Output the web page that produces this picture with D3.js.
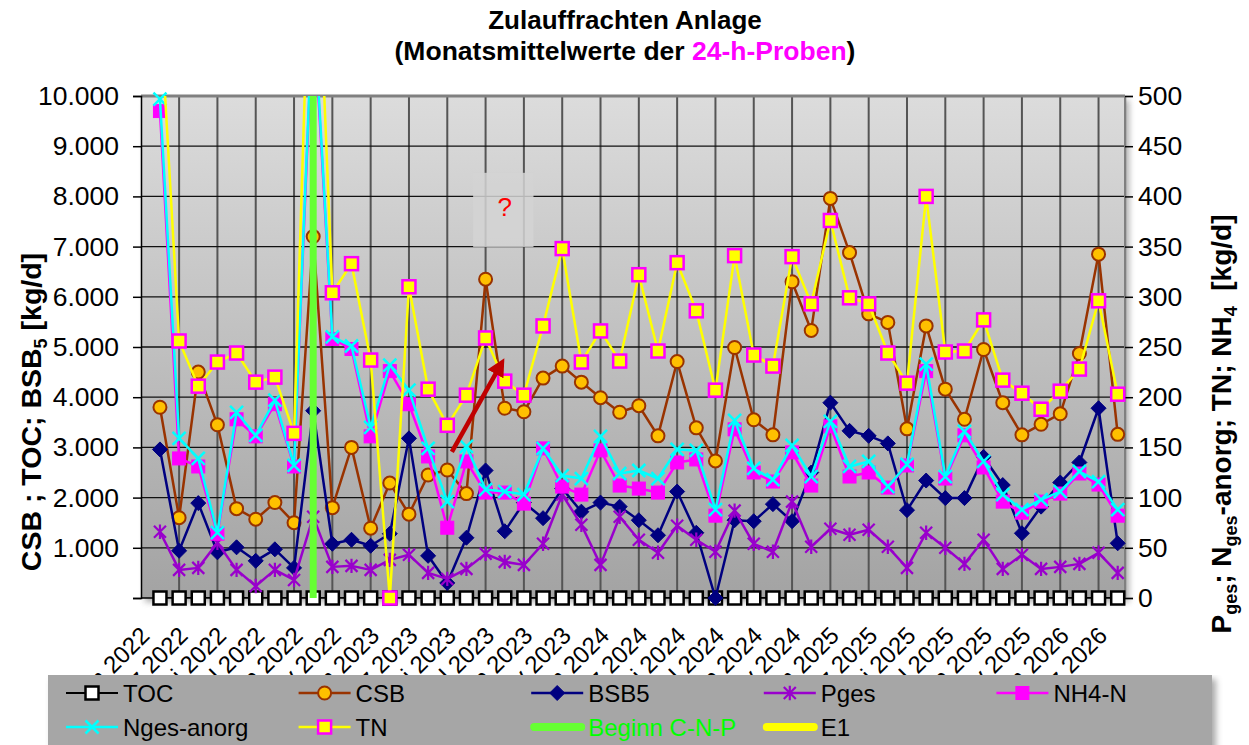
<!DOCTYPE html>
<html>
<head>
<meta charset="utf-8">
<script src="https://cdn.jsdelivr.net/npm/d3@7"></script>
<style>
  body { margin: 0; background: #fff; }
  svg { display: block; font-family: "Liberation Sans", Arial, sans-serif; }
</style>
</head>
<body>
<svg id="chart" width="1249" height="745"></svg>
<script>
// monthly categories (Jan 2022 .. Mar 2026)
const monthNames = ["Jan","Feb","Mrz","Apr","Mai","Jun","Jul","Aug","Sep","Okt","Nov","Dez"];
const years = [2022, 2023, 2024, 2025, 2026];
const months = [];
years.forEach(y => monthNames.forEach(m => months.push(m + " " + y)));
months.length = 51;

// left axis series [kg/d]
const toc  = [0,0,0,0,0,0,0,0,0,0, 0,0,0,0,0,0,0,0,0,0, 0,0,0,0,0,0,0,0,0,0, 0,0,0,0,0,0,0,0,0,0, 0,0,0,0,0,0,0,0,0,0, 0];
const csb  = [3800,1600,4500,3450,1780,1570,1900,1500,7200,1800, 3000,1390,2290,1670,2450,2550,2080,6350,3780,3710,
              4380,4620,4300,3990,3700,3830,3230,4710,3390,2730, 4990,3550,3250,6300,5330,7960,6880,5660,5490,3370,
              5420,4160,3560,4950,3890,3250,3460,3670,4870,6850, 3260];
const bsb5 = [2960,940,1890,910,1010,740,970,600,3730,1080, 1160,1040,1280,3180,840,300,1200,2540,1330,1900,
              1590,2180,1720,1900,1820,1550,1250,2120,1300,0, 1550,1530,1870,1530,2500,3890,3330,3230,3080,1750,
              2340,1990,1990,2810,2250,1290,1820,2300,2700,3780, 1090];

// right axis series [kg/d]
const pges = [66,28,30,55,28,12,28,18,81,31, 32,28,38,43,25,19,29,44,36,33,
              54,103,73,33,81,58,45,72,58,46, 87,54,46,96,51,69,63,68,51,30,
              65,50,34,58,29,43,29,31,34,45, 25];
const nh4  = [485,139,131,64,178,161,193,131,590,258, 248,161,226,193,141,70,136,105,105,94,
              149,111,103,147,112,109,105,135,138,82, 168,125,116,145,112,171,121,125,110,132,
              226,119,162,130,96,85,96,104,124,113, 82];
const nges = [497,159,139,65,185,162,197,132,600,260, 251,170,232,207,149,96,151,108,106,103,
              149,122,119,161,124,127,119,148,147,88, 177,129,118,152,121,176,131,136,111,133,
              233,121,166,136,103,88,98,106,126,116, 88];
const tn   = [590,256,211,235,244,215,220,164,770,304, 333,237,0,310,208,172,202,259,216,202,
              271,348,235,266,236,322,246,334,286,207, 341,242,231,340,293,376,299,293,244,214,
              400,245,246,277,217,204,188,206,228,296, 203];

// start of C-N-P measurement (category index, left axis range)
const beginnIndex = 8;
const beginnRange = [0, 10000];

const leftTicks  = [0,1000,2000,3000,4000,5000,6000,7000,8000,9000,10000];
const rightTicks = [0,50,100,150,200,250,300,350,400,450,500];

// annotation: arrow + question mark (category index, left axis value)
const arrowFrom = [15.24, 2910];
const arrowTo   = [17.75, 4620];
const questionAt = [18.0, 7790];
const questionBox = [[16.35, 8470], [19.5, 6990]];

const svg = d3.select("#chart");
const plot = { left: 141, right: 1125, top: 96, bottom: 598 };

const x  = d3.scaleLinear().domain([-1, 50]).range([140.8, 1117.7]);
const yL = d3.scaleLinear().domain([0, 10000]).range([plot.bottom, plot.top]);
const yR = d3.scaleLinear().domain([0, 500]).range([plot.bottom, plot.top]);

const defs = svg.append("defs");
const grad = defs.append("linearGradient").attr("id", "bg").attr("x1", 0).attr("y1", 0).attr("x2", 0).attr("y2", 1);
grad.append("stop").attr("offset", "0%").attr("stop-color", "#dcdcdc");
grad.append("stop").attr("offset", "100%").attr("stop-color", "#a3a3a3");
const blur = defs.append("filter").attr("id", "shadow").attr("x", "-5%").attr("y", "-5%").attr("width", "110%").attr("height", "120%");
blur.append("feGaussianBlur").attr("stdDeviation", 3);
defs.append("clipPath").attr("id", "clip").append("rect")
  .attr("x", plot.left).attr("y", plot.top)
  .attr("width", plot.right - plot.left).attr("height", plot.bottom - plot.top);

// title
const title = svg.append("g").attr("font-weight", "bold").attr("text-anchor", "middle");
title.append("text").attr("x", 625).attr("y", 29).attr("font-size", 26).text("Zulauffrachten Anlage");
const t2 = title.append("text").attr("x", 625).attr("y", 60).attr("font-size", 26.5);
t2.append("tspan").text("(Monatsmittelwerte der ");
t2.append("tspan").attr("fill", "#ff00ff").text("24-h-Proben");
t2.append("tspan").text(")");

// plot background with shadow
svg.append("rect").attr("x", plot.left + 4).attr("y", plot.top + 4)
  .attr("width", plot.right - plot.left).attr("height", plot.bottom - plot.top)
  .attr("fill", "#777").attr("opacity", 0.6).attr("filter", "url(#shadow)");
svg.append("rect").attr("x", plot.left).attr("y", plot.top)
  .attr("width", plot.right - plot.left).attr("height", plot.bottom - plot.top)
  .attr("fill", "url(#bg)");

// grid
const grid = svg.append("g");
grid.append("g").selectAll("line").data(d3.range(1, 51, 2)).enter().append("line")
  .attr("x1", d => x(d)).attr("x2", d => x(d))
  .attr("y1", plot.top).attr("y2", plot.bottom)
  .attr("stroke", "#555").attr("stroke-width", 2);
grid.append("g").selectAll("line").data(leftTicks.slice(1)).enter().append("line")
  .attr("x1", plot.left).attr("x2", plot.right)
  .attr("y1", d => yL(d)).attr("y2", d => yL(d))
  .attr("stroke", "#111").attr("stroke-width", 1.3);
svg.append("line").attr("x1", plot.left).attr("x2", plot.right).attr("y1", plot.top).attr("y2", plot.top)
  .attr("stroke", "#808080").attr("stroke-width", 3);
svg.append("line").attr("x1", plot.right).attr("x2", plot.right).attr("y1", plot.top).attr("y2", plot.bottom)
  .attr("stroke", "#808080").attr("stroke-width", 2);

// question box + mark
svg.append("rect")
  .attr("x", x(questionBox[0][0])).attr("y", yL(questionBox[0][1]))
  .attr("width", x(questionBox[1][0]) - x(questionBox[0][0]))
  .attr("height", yL(questionBox[1][1]) - yL(questionBox[0][1]))
  .attr("fill", "#d3d3d3").attr("opacity", 0.85);
svg.append("text").attr("x", x(questionAt[0])).attr("y", yL(questionAt[1]) + 9)
  .attr("text-anchor", "middle").attr("font-size", 26).attr("fill", "#ff0000").text("?");

// axes
const fmt = d => d3.format(",")(d).replace(/,/g, ".");
const axL = svg.append("g").attr("transform", `translate(${plot.left},0)`)
  .call(d3.axisLeft(yL).tickValues(leftTicks).tickSize(8).tickPadding(14).tickFormat(d => d === 0 ? "" : fmt(d)));
const axR = svg.append("g").attr("transform", `translate(${plot.right},0)`)
  .call(d3.axisRight(yR).tickValues(rightTicks).tickSize(8).tickPadding(5));
[axL, axR].forEach(a => {
  a.attr("font-family", null);
  a.selectAll("text").attr("font-size", 26.5).attr("fill", "#000");
  a.select(".domain").attr("stroke", "#000").attr("stroke-width", 1.5);
  a.selectAll(".tick line").attr("stroke", "#000").attr("stroke-width", 1.5);
});
axR.select(".domain").attr("stroke", "#808080");
svg.append("line").attr("x1", plot.left).attr("x2", plot.right).attr("y1", plot.bottom).attr("y2", plot.bottom)
  .attr("stroke", "#000").attr("stroke-width", 1.5);

// x labels every second month
svg.append("g").selectAll("text").data(d3.range(0, months.length, 2)).enter().append("text")
  .attr("transform", d => `translate(${x(d) - 9},637) rotate(-45)`)
  .attr("text-anchor", "end").attr("font-size", 24)
  .text(d => months[d]);

// axis titles
const lt = svg.append("text").attr("transform", "translate(41,412) rotate(-90)")
  .attr("text-anchor", "middle").attr("font-size", 28.5).attr("font-weight", "bold");
lt.append("tspan").text("CSB ; TOC; BSB");
lt.append("tspan").attr("font-size", 18).attr("dy", 6).text("5");
lt.append("tspan").attr("dy", -6).text(" [kg/d]");

const rt = svg.append("text").attr("transform", "translate(1231,424) rotate(-90)")
  .attr("text-anchor", "middle").attr("font-size", 28).attr("font-weight", "bold");
const rtParts = [["P", 0], ["ges", 1], ["; N", 0], ["ges", 1], ["-anorg; TN; NH", 0], ["4", 1], ["  [kg/d]", 0]];
let lastSub = 0;
rtParts.forEach(([s, sub]) => {
  rt.append("tspan").attr("font-size", sub ? 18 : 28).attr("dy", (sub - lastSub) * 6)
    .attr("xml:space", "preserve").text(s);
  lastSub = sub;
});

// markers
function marker(g, type, cx, cy, st) {
  const s = st.size;
  if (type === "square") {
    g.append("rect").attr("x", cx - s / 2).attr("y", cy - s / 2).attr("width", s).attr("height", s)
      .attr("fill", st.fill).attr("stroke", st.stroke).attr("stroke-width", st.sw);
  } else if (type === "circle") {
    g.append("circle").attr("cx", cx).attr("cy", cy).attr("r", s / 2)
      .attr("fill", st.fill).attr("stroke", st.stroke).attr("stroke-width", st.sw);
  } else if (type === "diamond") {
    const r = s / 2;
    g.append("path").attr("d", `M${cx},${cy - r}L${cx + r},${cy}L${cx},${cy + r}L${cx - r},${cy}Z`)
      .attr("fill", st.fill).attr("stroke", st.stroke).attr("stroke-width", st.sw);
  } else if (type === "x" || type === "star") {
    const r = s / 2;
    let d = `M${cx - r},${cy - r}L${cx + r},${cy + r}M${cx - r},${cy + r}L${cx + r},${cy - r}`;
    if (type === "star") d += `M${cx},${cy - r * 1.2}L${cx},${cy + r * 1.2}`;
    g.append("path").attr("d", d).attr("fill", "none").attr("stroke", st.stroke).attr("stroke-width", st.sw);
  }
}

const series = [
  { name: "TOC", values: toc, y: yL, color: "#000000", lw: 2, type: "square", st: { size: 13, fill: "#ffffff", stroke: "#000000", sw: 2.5 } },
  { name: "CSB", values: csb, y: yL, color: "#993300", lw: 2.5, type: "circle", st: { size: 13, fill: "#ffc000", stroke: "#993300", sw: 2 } },
  { name: "BSB5", values: bsb5, y: yL, color: "#000080", lw: 2.5, type: "diamond", st: { size: 15, fill: "#000080", stroke: "#000080", sw: 1 } },
  { name: "Pges", values: pges, y: yR, color: "#9900cc", lw: 2.5, type: "star", st: { size: 12, stroke: "#9900cc", sw: 2.2 } },
  { name: "NH4-N", values: nh4, y: yR, color: "#ff00ff", lw: 2.5, type: "square", st: { size: 13, fill: "#ff00ff", stroke: "#ff00ff", sw: 1 } },
  { name: "Nges-anorg", values: nges, y: yR, color: "#00ffff", lw: 2.5, type: "x", st: { size: 13, stroke: "#00ffff", sw: 2.5 } },
  { name: "TN", values: tn, y: yR, color: "#ffff00", lw: 2.5, type: "square", st: { size: 13, fill: "#ffff00", stroke: "#ff00ff", sw: 2.5 } }
];

series.forEach(s => {
  const g = svg.append("g");
  const line = d3.line().x((d, i) => x(i)).y(d => s.y(d));
  g.append("path").datum(s.values).attr("d", line).attr("clip-path", "url(#clip)")
    .attr("fill", "none").attr("stroke", s.color).attr("stroke-width", s.lw).attr("stroke-linejoin", "round");
  s.values.forEach((v, i) => {
    if (v <= s.y.domain()[1]) marker(g, s.type, x(i), s.y(v), s.st);
  });
});

// Beginn C-N-P
svg.append("line").attr("x1", x(beginnIndex)).attr("x2", x(beginnIndex))
  .attr("y1", yL(beginnRange[0])).attr("y2", yL(beginnRange[1]))
  .attr("stroke", "#66ff33").attr("stroke-width", 7);

// red arrow
defs.append("marker").attr("id", "head").attr("viewBox", "0 0 10 10").attr("refX", 5).attr("refY", 5)
  .attr("markerWidth", 4).attr("markerHeight", 4).attr("orient", "auto")
  .append("path").attr("d", "M0,0L10,5L0,10Z").attr("fill", "#c00000");
svg.append("line")
  .attr("x1", x(arrowFrom[0])).attr("y1", yL(arrowFrom[1]))
  .attr("x2", x(arrowTo[0])).attr("y2", yL(arrowTo[1]))
  .attr("stroke", "#c00000").attr("stroke-width", 4.5).attr("marker-end", "url(#head)");

// legend
const legend = svg.append("g");
legend.append("rect").attr("x", 52).attr("y", 679).attr("width", 1164).attr("height", 80)
  .attr("fill", "#555").attr("opacity", 0.5).attr("filter", "url(#shadow)");
legend.append("rect").attr("x", 48).attr("y", 675).attr("width", 1164).attr("height", 80).attr("fill", "#a6a6a6");
const order = ["TOC", "CSB", "BSB5", "Pges", "NH4-N", "Nges-anorg", "TN", "Beginn C-N-P", "E1"];
order.forEach((name, k) => {
  const col = k < 5 ? k : k - 5, row = k < 5 ? 0 : 1;
  const lx = 66 + col * 232.6, ly = 693 + row * 34;
  const g = legend.append("g");
  const s = series.find(d => d.name === name);
  if (s) {
    g.append("line").attr("x1", lx).attr("x2", lx + 52).attr("y1", ly).attr("y2", ly)
      .attr("stroke", s.color).attr("stroke-width", s.lw);
    marker(g, s.type, lx + 26, ly, s.st);
  } else {
    g.append("line").attr("x1", lx + 3).attr("x2", lx + 50).attr("y1", ly).attr("y2", ly)
      .attr("stroke", name === "E1" ? "#ffff00" : "#66ff33").attr("stroke-width", 8).attr("stroke-linecap", "round");
  }
  g.append("text").attr("x", lx + 57).attr("y", ly + 8.5).attr("font-size", 24)
    .attr("fill", name === "Beginn C-N-P" ? "#00ff00" : "#000").text(name);
});
</script>
</body>
</html>
